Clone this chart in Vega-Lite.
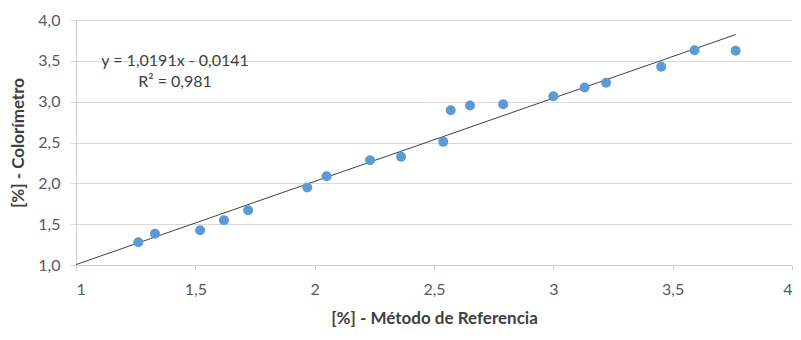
{
  "$schema": "https://vega.github.io/schema/vega-lite/v6.json",
  "autosize": "none",
  "width": 716,
  "height": 245,
  "padding": {"left": 76, "top": 20, "right": 9, "bottom": 75},
  "background": "white",
  "config": {
    "locale": {"number": {"decimal": ",", "thousands": ".", "grouping": [3], "currency": ["", " €"]}},
    "font": "Lato",
    "view": {"stroke": null}
  },
  "datasets": {
    "points": [
      {"ref": 1.261, "col": 1.279},
      {"ref": 1.331, "col": 1.382},
      {"ref": 1.52, "col": 1.426},
      {"ref": 1.62, "col": 1.549},
      {"ref": 1.721, "col": 1.671},
      {"ref": 1.969, "col": 1.949},
      {"ref": 2.05, "col": 2.087},
      {"ref": 2.232, "col": 2.283},
      {"ref": 2.362, "col": 2.325},
      {"ref": 2.539, "col": 2.508},
      {"ref": 2.57, "col": 2.895},
      {"ref": 2.651, "col": 2.953},
      {"ref": 2.79, "col": 2.969},
      {"ref": 3.0, "col": 3.067},
      {"ref": 3.131, "col": 3.173},
      {"ref": 3.221, "col": 3.231},
      {"ref": 3.452, "col": 3.427},
      {"ref": 3.592, "col": 3.63},
      {"ref": 3.764, "col": 3.623}
    ],
    "trend": [
      {"ref": 1.0, "col": 1.005},
      {"ref": 3.764, "col": 3.8218}
    ],
    "labels": [
      {"ref": 1.415, "col": 3.504, "text": "y = 1,0191x - 0,0141"},
      {"ref": 1.415, "col": 3.235, "text": "R² = 0,981"}
    ]
  },
  "encoding": {
    "x": {
      "field": "ref", "type": "quantitative",
      "scale": {"domain": [1, 4], "nice": false, "zero": false},
      "axis": {
        "title": "[%] - Método de Referencia",
        "values": [1, 1.5, 2, 2.5, 3, 3.5, 4],
        "format": "~g",
        "grid": false,
        "domainColor": "#d0d0d0",
        "tickColor": "#d0d0d0",
        "tickSize": 5,
        "labelFontSize": 16,
        "labelColor": "#595959",
        "labelPadding": 11,
        "titleFontSize": 17,
        "titleFontWeight": "bold",
        "titleColor": "#404040",
        "titlePadding": 13
      }
    },
    "y": {
      "field": "col", "type": "quantitative",
      "scale": {"domain": [1, 4], "nice": false, "zero": false},
      "axis": {
        "title": "[%] - Colorímetro",
        "values": [1, 1.5, 2, 2.5, 3, 3.5, 4],
        "format": ".1f",
        "grid": true,
        "gridColor": "#d9d9d9",
        "domainColor": "#d0d0d0",
        "tickColor": "#d9d9d9",
        "tickSize": 6,
        "labelFontSize": 16,
        "labelColor": "#595959",
        "labelPadding": 10,
        "titleFontSize": 17,
        "titleFontWeight": "bold",
        "titleColor": "#404040",
        "titlePadding": 10
      }
    }
  },
  "layer": [
    {
      "data": {"name": "trend"},
      "mark": {"type": "line", "color": "#404040", "strokeWidth": 1}
    },
    {
      "data": {"name": "points"},
      "mark": {"type": "point", "filled": true, "shape": "circle", "size": 100, "color": "#5b9bd5", "opacity": 1}
    },
    {
      "data": {"name": "labels"},
      "mark": {"type": "text", "fontSize": 16, "color": "#404040", "align": "center", "baseline": "middle"},
      "encoding": {"text": {"field": "text"}}
    }
  ]
}
